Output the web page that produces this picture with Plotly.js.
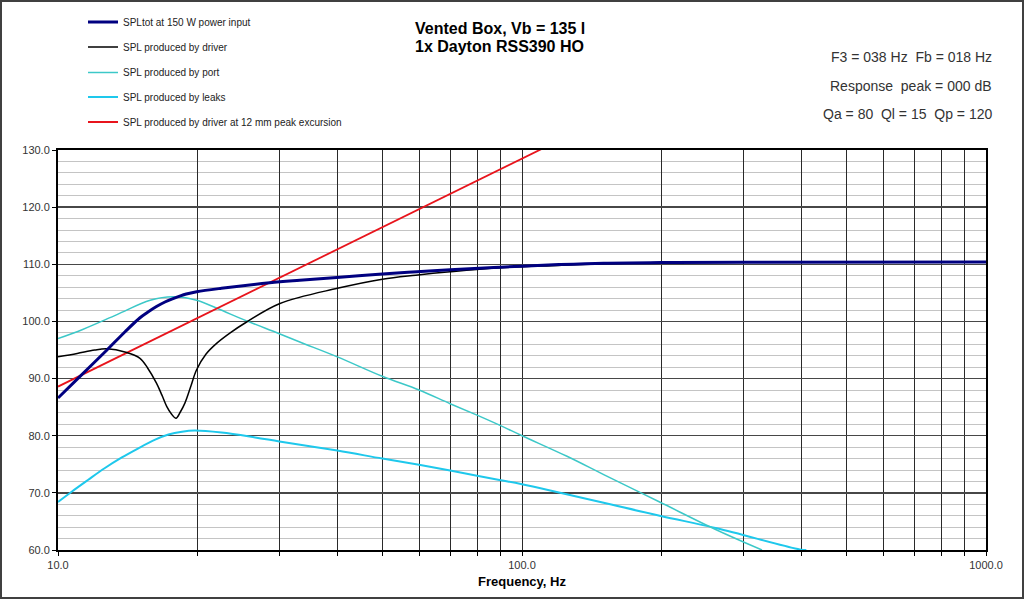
<!DOCTYPE html>
<html>
<head>
<meta charset="utf-8">
<script src="https://cdn.plot.ly/plotly-3.0.1.min.js"></script>
<style>
  body { margin: 0; background: #fff; }
  #chart { width: 1024px; height: 599px; }
</style>
</head>
<body>
<div id="chart"></div>
<script>
// values (Hz / dB)

let totFreq = [10, 11, 12.75, 13.95, 15, 15.6, 16.3, 17, 17.7, 18.9, 19.9, 22.5, 28.6, 33.2, 39.9, 50, 59.4, 70, 89.7, 120, 150, 200, 300, 1000]
let totSpl = [86.6, 89.9, 95.0, 98.2, 100.6, 101.6, 102.6, 103.4, 104.0, 104.8, 105.2, 105.8, 106.75, 107.2, 107.7, 108.3, 108.7, 109.05, 109.5, 109.95, 110.2, 110.3, 110.35, 110.4]

let driverFreq = [10, 11, 12, 12.75, 14, 15.02, 15.6, 16.3, 16.75, 17.16, 17.56, 17.96, 18.35, 18.77, 19.34, 19.88, 20.85, 22, 23.5, 25.5, 30, 40, 50, 59, 70, 90, 120, 150, 200, 300, 1000]
let driverSpl = [93.8, 94.4, 95.0, 95.2, 94.6, 93.55, 91.85, 89.2, 87.1, 85.1, 83.8, 83.05, 84.15, 85.7, 88.7, 91.5, 94.3, 96.2, 98.0, 99.9, 103.1, 105.8, 107.4, 108.1, 108.7, 109.4, 109.8, 110.1, 110.3, 110.35, 110.4]

let portFreq = [10, 11.3, 13.4, 15.8, 17.7, 19.9, 22, 25.5, 29.9, 33.2, 40, 50, 60, 70, 80, 89.7, 100, 125, 150, 198, 262.8, 329]
let portSpl = [97.0, 98.6, 101.2, 103.7, 104.3, 103.7, 102.3, 100.1, 97.9, 96.4, 93.8, 90.4, 88.0, 85.6, 83.6, 81.8, 80.0, 76.4, 73.2, 68.4, 63.5, 60.0]

let leakFreq = [10, 10.7, 11.6, 12.6, 13.7, 14.9, 16.2, 17.3, 18.5, 19.7, 22.5, 26.6, 30, 40, 50, 60, 70, 80, 90, 100, 198, 263, 397, 410]
let leakSpl = [68.4, 70.2, 72.25, 74.3, 76.15, 77.8, 79.3, 80.2, 80.7, 80.9, 80.55, 79.7, 79.0, 77.4, 76.0, 74.9, 73.9, 73.0, 72.2, 71.5, 66.0, 63.8, 60.1, 60.0]

let xmaxFreq = [10, 20, 40, 80, 111]
let xmaxSpl = [88.6, 100.6, 112.6, 124.6, 130.3]

let seriesNames = [
    "SPLtot at 150 W power input",
    "SPL produced by driver",
    "SPL produced by port",
    "SPL produced by leaks",
    "SPL produced by driver at 12 mm peak excursion"
]

let xTickVals = [10, 20, 30, 40, 50, 60, 70, 80, 90, 100, 200, 300, 400, 500, 600, 700, 800, 900, 1000]
let xTickText = ["10.0", "", "", "", "", "", "", "", "", "100.0", "", "", "", "", "", "", "", "", "1000.0"]

let titleLines = ["Vented Box, Vb = 135 l", "1x Dayton RSS390 HO"]
let infoLines = ["F3 = 038 Hz  Fb = 018 Hz", "Response  peak = 000 dB", "Qa = 80  Ql = 15  Qp = 120"]

const FONT = "Liberation Sans, Arial, sans-serif"

// plot box in pixels: 58..986 x 150..550
const L = 58, R = 986, T = 150, B = 550
function px(x) { return (x - L) / (R - L) }
function py(y) { return (B - y) / (B - T) }

function line(x, y, i, color, width, shape) {
    return {
        x: x, y: y,
        name: seriesNames[i],
        mode: "lines",
        type: "scatter",
        line: { color: color, width: width, shape: shape, smoothing: 1 },
        legend: i == 0 ? "legend" : "legend" + (i + 1)
    }
}

let plotdata = [
    line(leakFreq, leakSpl, 3, "#1EC8EC", 2, "spline"),
    line(portFreq, portSpl, 2, "#3CC8C8", 1.5, "spline"),
    line(xmaxFreq, xmaxSpl, 4, "#E8141C", 1.8, "linear"),
    line(driverFreq, driverSpl, 1, "#000000", 1.5, "spline"),
    line(totFreq, totSpl, 0, "#000080", 3, "spline")
]

let layout = {
    width: 1024, height: 599,
    margin: { l: L, r: 1024 - R, t: T, b: 599 - B, autoexpand: false },
    paper_bgcolor: "#ffffff",
    plot_bgcolor: "#ffffff",
    font: { family: FONT, size: 11, color: "#333333" },
    showlegend: true,
    xaxis: {
        type: "log",
        range: [1, 3],
        tickvals: xTickVals,
        ticktext: xTickText,
        ticks: "outside", ticklen: 4, tickcolor: "#000",
        tickfont: { size: 11, color: "#333" },
        showgrid: true, gridcolor: "#2a2a2a", gridwidth: 1,
        showline: true, linecolor: "#000", linewidth: 2, mirror: true,
        zeroline: false,
        title: { text: "<b>Frequency, Hz</b>", font: { size: 13, color: "#000" }, standoff: 7 }
    },
    yaxis: {
        range: [60, 130],
        dtick: 10,
        tickformat: ".1f",
        ticks: "outside", ticklen: 4, tickcolor: "#000",
        tickfont: { size: 11, color: "#333" },
        showgrid: true, gridcolor: "#474747", gridwidth: 1.5,
        minor: { dtick: 2, showgrid: true, gridcolor: "#c4c4c4", gridwidth: 1, ticks: "" },
        showline: true, linecolor: "#000", linewidth: 2, mirror: true,
        zeroline: false
    },
    annotations: [],
    shapes: [{
        type: "rect", xref: "paper", yref: "paper",
        x0: px(1), x1: px(1023), y0: py(598), y1: py(1),
        line: { color: "#404040", width: 2 }
    }]
}

// one small legend per row, so the rows sit where the reference has them
let legendRows = [22, 47, 72.5, 97, 122]
legendRows.forEach((y, i) => {
    let key = i == 0 ? "legend" : "legend" + (i + 1)
    layout[key] = {
        x: px(83), y: py(y), xanchor: "left", yanchor: "middle",
        bgcolor: "rgba(0,0,0,0)",
        font: { family: FONT, size: 10, color: "#222" },
        itemwidth: 30
    }
})

titleLines.forEach((t, i) => {
    layout.annotations.push({
        text: "<b>" + t + "</b>",
        xref: "paper", yref: "paper",
        x: px(413), y: py(28 + i * 19),
        xanchor: "left", yanchor: "middle", showarrow: false,
        font: { family: FONT, size: 16, color: "#000" }
    })
})

infoLines.forEach((t, i) => {
    layout.annotations.push({
        text: t,
        xref: "paper", yref: "paper",
        x: px(994), y: py(57 + i * 28.5),
        xanchor: "right", yanchor: "middle", showarrow: false,
        font: { family: FONT, size: 14, color: "#333" }
    })
})

Plotly.newPlot("chart", plotdata, layout, { staticPlot: true })
</script>
</body>
</html>
